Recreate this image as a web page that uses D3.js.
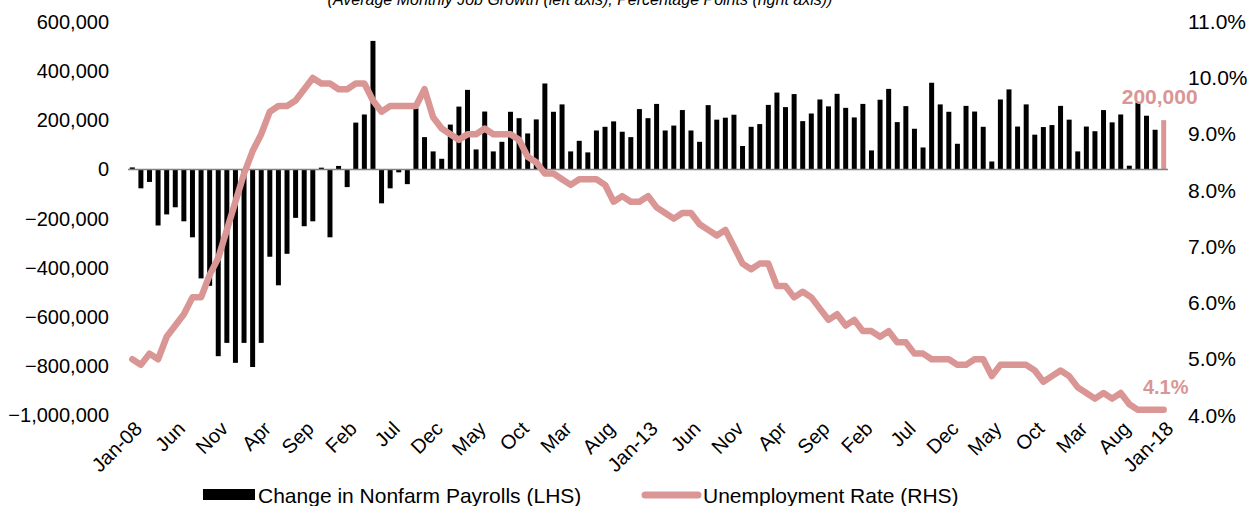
<!DOCTYPE html>
<html>
<head>
<meta charset="utf-8">
<script src="https://cdn.jsdelivr.net/npm/d3@7"></script>
<style>
  body { margin: 0; background: #fff; }
  text { font-family: "Liberation Sans", Arial, sans-serif; }
</style>
</head>
<body>
<script>
var width = 1252;
var height = 506;

// monthly data, Jan-08 .. Jan-18
var payrolls = [
    8, -77, -51, -228, -183, -154, -211, -276, -443, -473, -759, -705,
    -786, -705, -803, -705, -355, -471, -343, -197, -231, -211, 7, -276,
    14, -72, 190, 223, 522, -138, -77, -12, -60, 248, 131, 73,
    43, 182, 255, 323, 81, 235, 73, 112, 234, 208, 146, 203,
    349, 234, 264, 73, 116, 69, 158, 173, 195, 153, 131, 245,
    208, 266, 158, 178, 241, 158, 112, 261, 202, 210, 222, 95,
    173, 184, 262, 312, 253, 306, 196, 227, 284, 256, 307, 250,
    211, 266, 77, 283, 327, 192, 257, 165, 89, 352, 264, 234,
    104, 258, 235, 173, 32, 284, 325, 174, 264, 141, 172, 180,
    258, 202, 73, 174, 155, 241, 191, 223, 15, 271, 218, 161,
    200
];   // thousands
var unemployment = [
    5.0, 4.9, 5.1, 5.0, 5.4, 5.6, 5.8, 6.1, 6.1, 6.5, 6.8, 7.3,
    7.8, 8.3, 8.7, 9.0, 9.4, 9.5, 9.5, 9.6, 9.8, 10.0, 9.9, 9.9,
    9.8, 9.8, 9.9, 9.9, 9.6, 9.4, 9.5, 9.5, 9.5, 9.5, 9.8, 9.3,
    9.1, 9.0, 8.9, 9.0, 9.0, 9.1, 9.0, 9.0, 9.0, 8.9, 8.6, 8.5,
    8.3, 8.3, 8.2, 8.1, 8.2, 8.2, 8.2, 8.1, 7.8, 7.9, 7.8, 7.8,
    7.9, 7.7, 7.6, 7.5, 7.6, 7.6, 7.4, 7.3, 7.2, 7.3, 7.0, 6.7,
    6.6, 6.7, 6.7, 6.3, 6.3, 6.1, 6.2, 6.1, 5.9, 5.7, 5.8, 5.6,
    5.7, 5.5, 5.5, 5.4, 5.5, 5.3, 5.3, 5.1, 5.1, 5.0, 5.0, 5.0,
    4.9, 4.9, 5.0, 5.0, 4.7, 4.9, 4.9, 4.9, 4.9, 4.8, 4.6, 4.7,
    4.8, 4.7, 4.5, 4.4, 4.3, 4.4, 4.3, 4.4, 4.2, 4.1, 4.1, 4.1,
    4.1
];
var tickLabels = ["Jan-08", "Jun", "Nov", "Apr", "Sep", "Feb", "Jul", "Dec", "May", "Oct",
    "Mar", "Aug", "Jan-13", "Jun", "Nov", "Apr", "Sep", "Feb", "Jul", "Dec", "May", "Oct",
    "Mar", "Aug", "Jan-18"];
var leftTicks = [600000, 400000, 200000, 0, -200000, -400000, -600000, -800000, -1000000];
var rightTicks = [11, 10, 9, 8, 7, 6, 5, 4];
var title = "(Average Monthly Job Growth (left axis), Percentage Points (right axis))";

var pink = "#d99694";
var months = d3.range(payrolls.length);

var svg = d3.select("body").append("svg").attr("width", width).attr("height", height);

var x = d3.scaleBand().domain(months).range([128, 1168]).paddingInner(0.42).paddingOuter(0.21);
var yL = d3.scaleLinear().domain([-1000000, 600000]).range([415.5, 21.7]);
var yR = d3.scaleLinear().domain([4, 11]).range([415.5, 21.7]);
var xc = function (i) { return x(i) + x.bandwidth() / 2; };

// title (clipped at top like the original)
svg.append("text").text(title)
    .attr("x", 580).attr("y", 5)
    .attr("text-anchor", "middle")
    .attr("font-size", 16).attr("font-style", "italic").attr("fill", "#000");

// left axis
var fmt = d3.format(",");
svg.append("g").attr("transform", "translate(109,0)")
    .call(d3.axisLeft(yL).tickValues(leftTicks).tickFormat(fmt).tickSize(0).tickPadding(0))
    .call(function (g) { g.select(".domain").remove(); })
    .selectAll("text").attr("font-size", 20).attr("fill", "#000")
    .attr("font-family", "Liberation Sans, Arial, sans-serif");

// right axis
svg.append("g").attr("transform", "translate(1188,0)")
    .call(d3.axisRight(yR).tickValues(rightTicks).tickFormat(function (d) { return d.toFixed(1) + "%"; })
        .tickSize(0).tickPadding(0))
    .call(function (g) { g.select(".domain").remove(); })
    .selectAll("text").attr("font-size", 21).attr("fill", "#000")
    .attr("font-family", "Liberation Sans, Arial, sans-serif");

// bars
svg.selectAll("rect.bar").data(months).enter().append("rect")
    .attr("class", "bar")
    .attr("x", function (i) { return x(i); })
    .attr("width", x.bandwidth())
    .attr("y", function (i) { return yL(Math.max(0, payrolls[i] * 1000)); })
    .attr("height", function (i) { return Math.abs(yL(payrolls[i] * 1000) - yL(0)); })
    .attr("fill", function (i) { return i === payrolls.length - 1 ? pink : "#000"; });

// zero line
svg.append("line")
    .attr("x1", 128).attr("x2", 1168)
    .attr("y1", yL(0)).attr("y2", yL(0))
    .attr("stroke", "#808080").attr("stroke-width", 1.5);

// unemployment line
var line = d3.line()
    .x(function (i) { return xc(i); })
    .y(function (i) { return yR(unemployment[i]); });
svg.append("path").datum(months)
    .attr("d", line)
    .attr("fill", "none").attr("stroke", pink).attr("stroke-width", 6.5)
    .attr("stroke-linejoin", "round").attr("stroke-linecap", "round");

// x axis labels
svg.selectAll("text.xl").data(tickLabels).enter().append("text")
    .attr("class", "xl")
    .text(function (d) { return d; })
    .attr("text-anchor", "end")
    .attr("font-size", 20)
    .attr("transform", function (d, k) {
        return "translate(" + (xc(k * 5) + 11) + ",430) rotate(-45)";
    });

// end labels
var last = payrolls.length - 1;
svg.append("text").text(fmt(payrolls[last] * 1000))
    .attr("x", xc(last) - 4).attr("y", 104)
    .attr("text-anchor", "middle").attr("font-size", 21).attr("font-weight", "bold").attr("fill", pink);
svg.append("text").text(unemployment[last].toFixed(1) + "%")
    .attr("x", xc(last) + 2).attr("y", 394)
    .attr("text-anchor", "middle").attr("font-size", 20).attr("font-weight", "bold").attr("fill", pink);

// legend
svg.append("rect").attr("x", 203).attr("y", 489).attr("width", 52).attr("height", 11).attr("fill", "#000");
svg.append("text").text("Change in Nonfarm Payrolls (LHS)")
    .attr("x", 258).attr("y", 503).attr("font-size", 21);
svg.append("line").attr("x1", 645).attr("x2", 698).attr("y1", 495).attr("y2", 495)
    .attr("stroke", pink).attr("stroke-width", 7).attr("stroke-linecap", "round");
svg.append("text").text("Unemployment Rate (RHS)")
    .attr("x", 703).attr("y", 503).attr("font-size", 21);
</script>
</body>
</html>
